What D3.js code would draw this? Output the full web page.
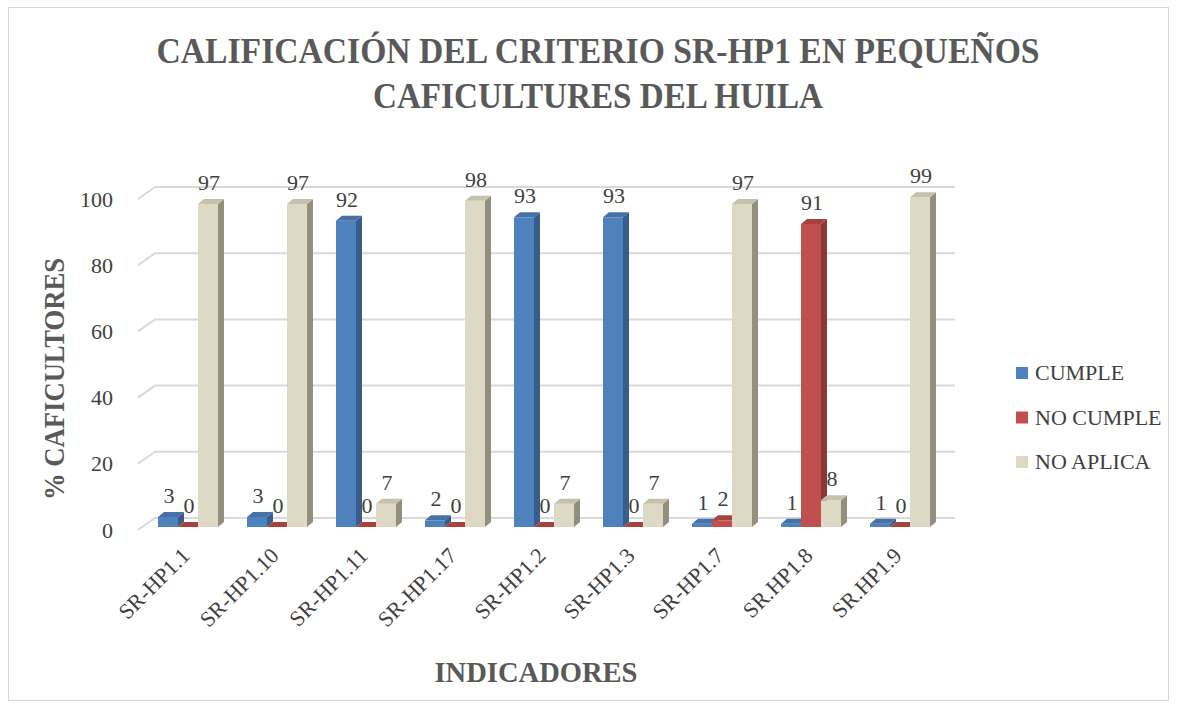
<!DOCTYPE html>
<html><head><meta charset="utf-8">
<script src="https://cdn.jsdelivr.net/npm/d3@7"></script>
<style>body{margin:0;background:#fff}svg{display:block}text{font-family:"Liberation Serif","DejaVu Serif",serif}</style>
</head><body>
<script>
const categories = ["SR-HP1.1","SR-HP1.10","SR-HP1.11","SR-HP1.17","SR-HP1.2","SR-HP1.3","SR-HP1.7","SR.HP1.8","SR.HP1.9"];
const seriesNames = ["CUMPLE","NO CUMPLE","NO APLICA"];
const cumple   = [3,3,92,2,93,93,1,1,1];
const noCumple = [0,0,0,0,0,0,2,91,0];
const noAplica = [97,97,7,98,7,7,97,8,99];
const yTicks = [0,20,40,60,80,100];

const W=1177,H=709;
const svg=d3.select("body").append("svg").attr("width",W).attr("height",H);
svg.append("rect").attr("x",8.5).attr("y",7.5).attr("width",1160).attr("height",693)
  .attr("fill","#fff").attr("stroke","#d9d9d9").attr("stroke-width",1);

const colors=[
  {front:"#4F81BD",side:"#385D8A",top:"#4472A8"},
  {front:"#C0504D",side:"#8C3836",top:"#A8423F"},
  {front:"#DDD9C4",side:"#948F7D",top:"#C6C1AB"}
];
const series=[cumple,noCumple,noAplica];

const x0=d3.scaleBand().domain(categories).range([143.5,944.5]).padding(0);
const x1=d3.scaleBand().domain(seriesNames).range([0,60]).padding(0);
const inset=(x0.bandwidth()-60)/2;
const yBack=d3.scaleLinear().domain([0,100]).range([518,187]);
const yFront=d3.scaleLinear().domain([0,100]).range([527,194]);
const yLab=d3.scaleLinear().domain([0,100]).range([530,199]);
const DX=6,DY=5;

// gridlines
const grid=svg.append("g");
yTicks.forEach(t=>{
  const yb=yBack(t);
  grid.append("path").attr("d",`M138,${yb+12}L155,${yb}L955,${yb}`)
    .attr("fill","none").attr("stroke","#d9d9d9").attr("stroke-width",2);
});

// y axis labels
const ax=svg.append("g").attr("transform","translate(122,0)")
  .call(d3.axisLeft(yLab).tickValues(yTicks).tickSize(0).tickPadding(9));
ax.select(".domain").remove();
ax.selectAll("text").attr("font-size",22).attr("fill","#404040").style("font-family","Liberation Serif, serif");

// bars
const bars=svg.append("g");
categories.forEach((c,i)=>{
  series.forEach((s,k)=>{
    const v=s[i];
    const x=x0(c)+inset+x1(seriesNames[k]);
    const w=x1.bandwidth();
    const yt=yFront(v), yb=yFront(0);
    const col=colors[k];
    bars.append("rect").attr("x",x).attr("y",yt).attr("width",w).attr("height",Math.max(0,yb-yt)).attr("fill",col.front);
    bars.append("path").attr("d",`M${x+w},${yt}L${x+w+DX},${yt-DY}L${x+w+DX},${yb-DY}L${x+w},${yb}Z`).attr("fill",col.side);
    bars.append("path").attr("d",`M${x},${yt}L${x+DX},${yt-DY}L${x+w+DX},${yt-DY}L${x+w},${yt}Z`).attr("fill",col.top);
  });
});
// data labels
const labs=svg.append("g");
categories.forEach((c,i)=>{
  series.forEach((s,k)=>{
    const v=s[i];
    const x=x0(c)+inset+x1(seriesNames[k])+x1.bandwidth()/2+1;
    labs.append("text").attr("x",x).attr("y",yFront(v)-14).attr("text-anchor","middle")
      .attr("font-size",22).attr("fill","#404040").text(v);
  });
});

// x labels
categories.forEach(c=>{
  const cx=x0(c)+x0.bandwidth()/2+3;
  svg.append("text").attr("transform",`translate(${cx},${557}) rotate(-45)`)
    .attr("text-anchor","end").attr("font-size",22).attr("fill","#404040").text(c);
});

// titles
svg.append("text").attr("x",598).attr("y",63).attr("text-anchor","middle").attr("font-size",36)
  .attr("font-weight","bold").attr("fill","#595959").attr("textLength",883).attr("lengthAdjust","spacingAndGlyphs")
  .text("CALIFICACIÓN DEL CRITERIO SR-HP1 EN PEQUEÑOS");
svg.append("text").attr("x",598).attr("y",108).attr("text-anchor","middle").attr("font-size",36)
  .attr("font-weight","bold").attr("fill","#595959").attr("textLength",450).attr("lengthAdjust","spacingAndGlyphs")
  .text("CAFICULTURES DEL HUILA");
svg.append("text").attr("transform","translate(64,379) rotate(-90)").attr("text-anchor","middle")
  .attr("font-size",30).attr("font-weight","bold").attr("fill","#595959")
  .attr("textLength",242).attr("lengthAdjust","spacingAndGlyphs").text("% CAFICULTORES");
svg.append("text").attr("x",536).attr("y",682).attr("text-anchor","middle")
  .attr("font-size",29).attr("font-weight","bold").attr("fill","#595959")
  .attr("textLength",203).attr("lengthAdjust","spacingAndGlyphs").text("INDICADORES");

// legend
const leg=svg.append("g");
seriesNames.forEach((n,k)=>{
  const cy=373+k*44.5;
  leg.append("rect").attr("x",1016).attr("y",cy-6).attr("width",12).attr("height",12).attr("fill",colors[k].front);
  leg.append("text").attr("x",1035).attr("y",cy+7).attr("font-size",22).attr("fill","#404040").text(n);
});
</script>
</body></html>
